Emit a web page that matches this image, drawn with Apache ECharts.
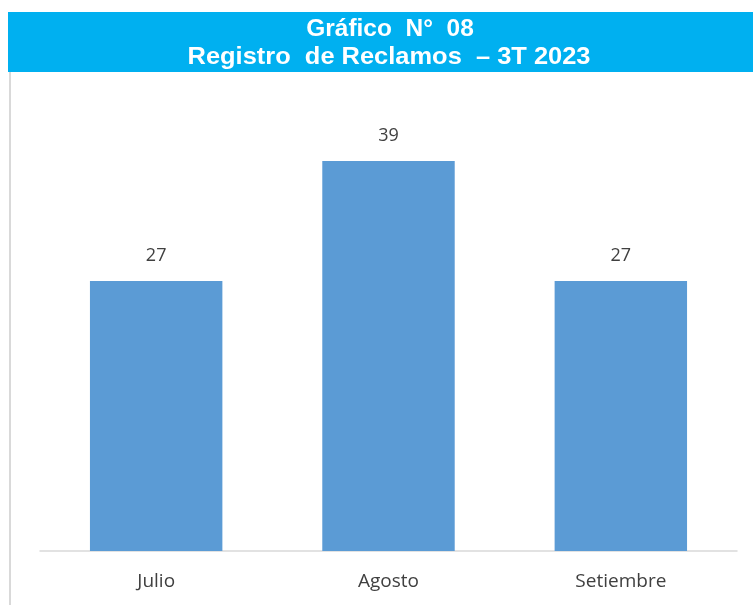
<!DOCTYPE html>
<html lang="es">
<head>
    <meta charset="UTF-8">
    <title>Registro de Reclamos</title>
    <script src="https://cdn.jsdelivr.net/npm/echarts@6/dist/echarts.min.js"></script>
</head>
<body style="margin:0">
    <div id="main" style="width:753px;height:605px;"></div>
    <script type="text/javascript">
        const months = ['Julio', 'Agosto', 'Setiembre'];
        const reclamos = [27, 39, 27];
        const titleLines = ['Gráfico  N°  08', 'Registro  de Reclamos  – 3T 2023'];

        let myChart = echarts.init(document.getElementById('main'));
        const titleFont = 'bold 24px "Liberation Sans", Arial, sans-serif';
        let options = {
            backgroundColor: '#ffffff',
            animation: false,
            graphic: [
                { type: 'rect', shape: { x: 8, y: 12, width: 760, height: 60 }, style: { fill: '#00B0F0' } },
                { type: 'rect', shape: { x: 9, y: 72, width: 2, height: 540 }, style: { fill: '#d9d9d9' } },
                // title lines, slightly stretched to match the original's width
                {
                    type: 'text', x: 390, y: 29, scaleX: 1.02,
                    style: { text: titleLines[0], fill: '#ffffff', align: 'center', verticalAlign: 'middle', font: titleFont }
                },
                {
                    type: 'text', x: 389, y: 57, scaleX: 1.06,
                    style: { text: titleLines[1], fill: '#ffffff', align: 'center', verticalAlign: 'middle', font: titleFont }
                }
            ],
            grid: { left: 40, right: 16, top: 101, bottom: 54 },
            xAxis: {
                type: 'category',
                data: months,
                axisTick: { show: false },
                axisLine: { lineStyle: { color: '#d9d9d9', width: 1.5 } },
                axisLabel: { color: '#404040', fontSize: 19, fontFamily: '"Open Sans", sans-serif', margin: 21 }
            },
            yAxis: { type: 'value', min: 0, max: 45, show: false, splitLine: { show: false } },
            series: [{
                type: 'bar',
                data: reclamos,
                barWidth: '57%',
                itemStyle: { color: '#5B9BD5' },
                label: {
                    show: true, position: 'top', distance: 16,
                    color: '#404040', fontSize: 18, fontFamily: '"Open Sans", sans-serif'
                }
            }]
        };
        myChart.setOption(options);
    </script>
</body>
</html>
